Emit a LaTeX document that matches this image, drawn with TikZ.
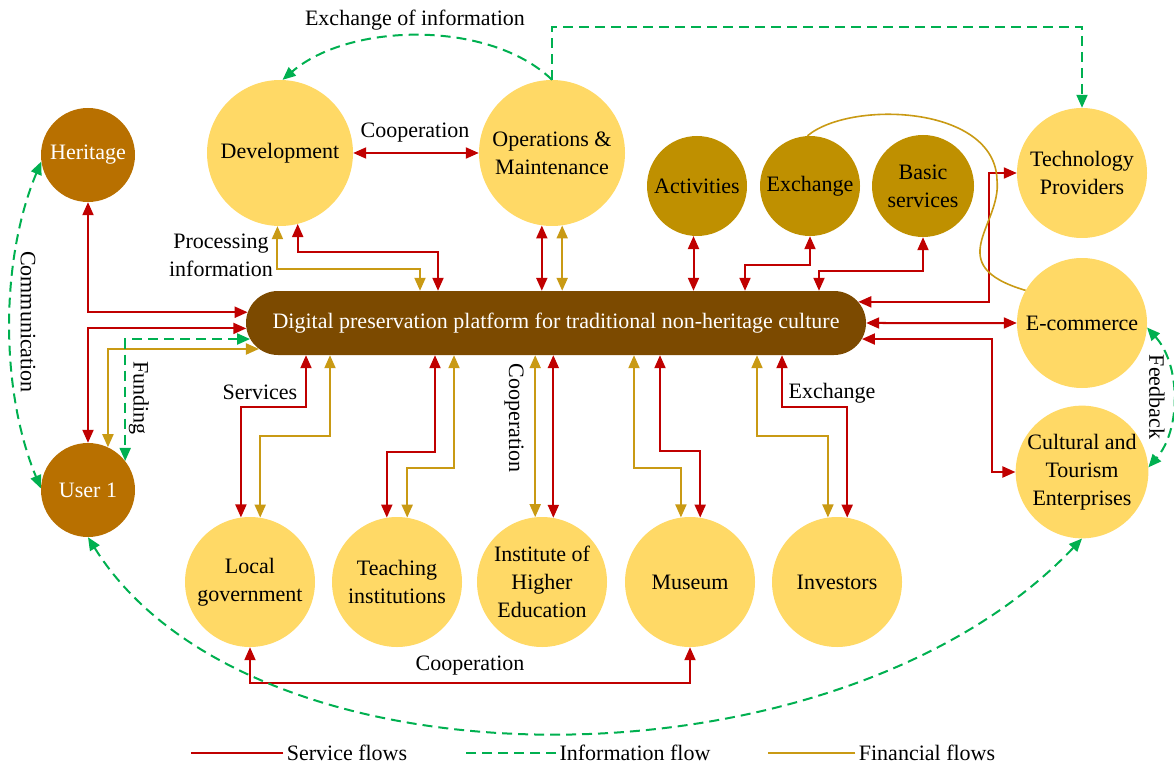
\documentclass[tikz,border=0pt]{standalone}
\usepackage{fontspec}
\setmainfont{Liberation Serif}
\usetikzlibrary{arrows.meta}
\usetikzlibrary{shapes.misc}
\definecolor{sred}{RGB}{192,0,0}
\definecolor{fgold}{RGB}{201,154,20}
\definecolor{igreen}{RGB}{0,176,80}
\definecolor{lightgold}{RGB}{255,217,102}
\definecolor{mustard}{RGB}{191,144,0}
\definecolor{rust}{RGB}{184,112,0}
\definecolor{platbrown}{RGB}{124,74,0}

\begin{document}
\begin{tikzpicture}[x=1pt,y=-1pt]
\tikzstyle{every node}=[font=\fontsize{22}{28}\selectfont]
\tikzstyle{bigc}=[circle, minimum size=146pt, inner sep=0pt, fill=lightgold, align=center]
\tikzstyle{midc}=[circle, minimum size=130pt, inner sep=0pt, fill=lightgold, align=center]
\tikzstyle{smallc}=[circle, minimum size=100pt, inner sep=0pt, fill=mustard, align=center]
\tikzstyle{userc}=[circle, minimum size=94pt, inner sep=0pt, fill=rust, text=white]
\tikzstyle{flowtip}=[>={Triangle[length=13pt,width=11pt]}]
\tikzstyle{service}=[<->, flowtip, line width=2pt, draw=sred]
\tikzstyle{finance}=[<->, flowtip, line width=2pt, draw=fgold]
\tikzstyle{info}=[flowtip, line width=2pt, draw=igreen, dash pattern=on 10pt off 6pt]
  \useasboundingbox (0,0) rectangle (1174,767);
  % platform
  \node[rounded rectangle, minimum width=620pt, minimum height=64pt, inner sep=0pt,
        fill=platbrown, text=white] (plat) at (556,323)
        {Digital preservation platform for traditional non-heritage culture};
  % actors
  \node[userc] (her) at (88,155) {Heritage};
  \node[userc] (usr) at (88,490) {User 1};
  \node[bigc] (dev) at (280,153) {Development};
  \node[bigc] (ops) at (552,153) {Operations \&\\Maintenance};
  \node[smallc] (act) at (697,186) {Activities};
  \node[smallc] (exc) at (810,186) {Exchange};
  \node[smallc, minimum size=102pt] (bas) at (923,186) {Basic\\services};
  \node[midc] (tp) at (1082,173) {Technology\\Providers};
  \node[midc] (eco) at (1082,323) {E-commerce};
  \node[midc] (cte) at (1082,472) {Cultural and\\Tourism\\Enterprises};
  \node[midc] (lg) at (250,582) {Local\\government};
  \node[midc] (tea) at (397,582) {Teaching\\institutions};
  \node[midc] (ihe) at (542,582) {Institute of\\Higher\\Education};
  \node[midc] (mus) at (690,582) {Museum};
  \node[midc] (inv) at (837,582) {Investors};
  % labels
  \node[align=center] (proc) at (221,255) {Processing\\information};
  \node (coopa) at (415,133) {Cooperation};
  \node (serv) at (260,392) {Services};
  \node[rotate=-90] (coopb) at (514,418) {Cooperation};
  \node (exch) at (832,393) {Exchange};
  \node (coopc) at (470,666) {Cooperation};
  \node (exinfo) at (415,20) {Exchange of information};
  \node[rotate=-90] (comm) at (28,322) {Communication};
  \node[rotate=-90] (fund) at (139,398) {Funding};
  \node[rotate=-90] (feed) at (1157,397) {Feedback};
  % left side
  \draw[service] (her.south) |- (plat.178.1);
  \draw[service] (plat.181.7) -| (usr.north);
  \draw[finance] (plat.185.2) -| (usr.65);
  \draw[info,<->] (plat.183.8) -| (usr.38);
  \draw[info,<->] (her.188) .. controls (0,260) and (0,390) .. (usr.178);
  % top row
  \path (dev) edge [service] (ops);
  \draw[finance] (dev.268) -- ++(0,43) -| ([xshift=-136pt]plat.north);
  \draw[service] (dev.-76.5) -- ++(0,28) -| ([xshift=-118pt]plat.north);
  \draw[service] (ops.-98.7) -- (ops.-98.7 |- plat.north);
  \draw[finance] (ops.-82.9) -- (ops.-82.9 |- plat.north);
  \draw[service] (act.-94.6) -- (act.-94.6 |- plat.north);
  \draw[service] (exc.south) -- ++(0,29) -| ([xshift=189pt]plat.north);
  \draw[service] (bas.south) -- ++(0,34) -| ([xshift=263pt]plat.north);
  \draw[info,->] (ops.north) .. controls (490,20) and (350,22) .. (dev.88);
  \draw[info,->] (ops.north) -- ++(0,-53) -| (tp.north);
  % right side
  \draw[service] (plat.4) -- ++(131,0) |- (tp.west);
  \path (plat) edge [service] (eco);
  \draw[service] (plat.-3.6) -- ++(130,0) |- (cte.west);
  \draw[line width=1.6pt, draw=fgold] (exc.93) .. controls (850,100) and (995,105) .. (997,180)
        .. controls (1002,225) and (940,265) .. (eco.150);
  \draw[info,<->] (eco.-4) .. controls (1181,365) and (1181,430) .. (cte.4);
  % bottom row
  \draw[service] ([xshift=-250pt]plat.south) -- ++(0,52) -| (lg.98);
  \draw[finance] ([xshift=-226pt]plat.south) -- ++(0,81) -| (lg.81);
  \draw[service] ([xshift=-121pt]plat.south) -- ++(0,97) -| (tea.99);
  \draw[finance] ([xshift=-102pt]plat.south) -- ++(0,113) -| (tea.81);
  \draw[finance] (ihe.96.2 |- plat.south) -- (ihe.96.2);
  \draw[service] (ihe.80.3 |- plat.south) -- (ihe.80.3);
  \draw[finance] ([xshift=78pt]plat.south) -- ++(0,113) -| (mus.98);
  \draw[service] ([xshift=104pt]plat.south) -- ++(0,96) -| (mus.81);
  \draw[finance] ([xshift=201pt]plat.south) -- ++(0,81) -| (inv.98);
  \draw[service] ([xshift=226pt]plat.south) -- ++(0,52) -| (inv.81);
  \draw[service] (lg.south) -- ++(0,36) -| (mus.south);
  \draw[info,<->] (usr.south) .. controls (250,797) and (837,797) .. (cte.south);
  % legend
  \node (lsf) at (347,753) {Service flows};
  \node (lif) at (635,753) {Information flow};
  \node (lff) at (927,753) {Financial flows};
  \draw[line width=2pt, draw=sred] (lsf.west) -- ++(-92,0);
  \draw[info] (lif.west) -- ++(-90,0);
  \draw[line width=2pt, draw=fgold] (lff.west) -- ++(-87,0);
\end{tikzpicture}
\end{document}
